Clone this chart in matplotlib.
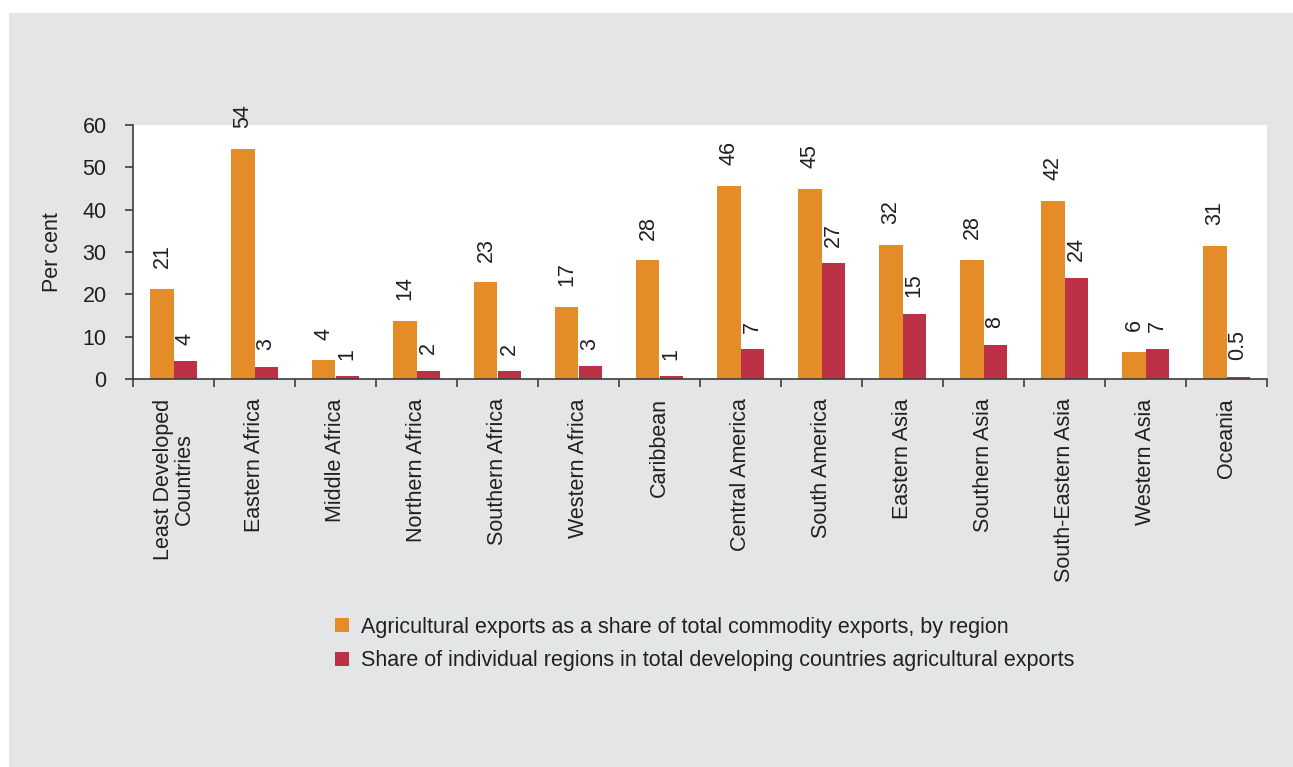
import numpy as np
import matplotlib.pyplot as plt
from matplotlib.patches import Patch, Rectangle

plt.rcParams['font.family'] = ['Liberation Sans', 'DejaVu Sans']

# Data
regions = ["Least Developed\nCountries", "Eastern Africa", "Middle Africa", "Northern Africa",
           "Southern Africa", "Western Africa", "Caribbean", "Central America", "South America",
           "Eastern Asia", "Southern Asia", "South-Eastern Asia", "Western Asia", "Oceania"]
agri_share = [21.2, 54.3, 4.4, 13.8, 22.8, 17.0, 28.0, 45.6, 45.0, 31.6, 28.2, 42.1, 6.3, 31.4]
region_share = [4.2, 2.8, 0.6, 1.9, 1.8, 3.0, 0.6, 7.0, 27.3, 15.4, 8.1, 23.9, 7.2, 0.5]
agri_labels = ["21", "54", "4", "14", "23", "17", "28", "46", "45", "32", "28", "42", "6", "31"]
region_labels = ["4", "3", "1", "2", "2", "3", "1", "7", "27", "15", "8", "24", "7", "0.5"]
legend_names = ["Agricultural exports as a share of total commodity exports, by region",
                "Share of individual regions in total developing countries agricultural exports"]

orange = "#e38c28"
red = "#bd3146"
grey_bg = "#e4e5e7"
txt = "#231f20"
fs = 15.5

W, H = 1293, 767
fig = plt.figure(figsize=(W / 100, H / 100), dpi=100, facecolor="white")
fig.patches.append(Rectangle((9 / W, 0), 1, (H - 13) / H, transform=fig.transFigure,
                             facecolor=grey_bg, edgecolor="none", zorder=-10))

ax = fig.add_axes([133 / W, (H - 379) / H, (1267 - 133) / W, (379 - 125) / H])
ax.set_facecolor("white")

x = np.arange(len(regions)) + 0.5
bw = 0.284
ax.bar(x - bw / 2, agri_share, bw, color=orange, label=legend_names[0])
ax.bar(x + bw / 2, region_share, bw, color=red, label=legend_names[1])

for xi, v, lab in zip(x - bw / 2, agri_share, agri_labels):
    ax.annotate(lab, (xi, v), xytext=(0, 15), textcoords="offset points", rotation=90,
                ha="center", va="bottom", fontsize=fs, color=txt, annotation_clip=False)
for xi, v, lab in zip(x + bw / 2, region_share, region_labels):
    ax.annotate(lab, (xi, v), xytext=(0, 12), textcoords="offset points", rotation=90,
                ha="center", va="bottom", fontsize=fs, color=txt, annotation_clip=False)

ax.set_xlim(0, len(regions))
ax.set_ylim(0, 60)
ax.set_yticks(range(0, 61, 10))
ax.set_xticks(x)
ax.set_xticklabels(regions, rotation=90, fontsize=fs, color=txt, linespacing=1.0)
ax.set_xticks(np.arange(len(regions) + 1), minor=True)
ax.tick_params(axis="x", which="major", length=0, pad=14)
ax.tick_params(axis="x", which="minor", length=6, width=1.2, color="#3c3c3c")
ax.tick_params(axis="y", length=6, width=1.2, color="#3c3c3c", labelsize=fs, labelcolor=txt, pad=13)

for s in ["top", "right"]:
    ax.spines[s].set_visible(False)
for s in ["left", "bottom"]:
    ax.spines[s].set_color("#3c3c3c")
    ax.spines[s].set_linewidth(1.2)

ax.set_ylabel("Per cent", fontsize=fs, color=txt, labelpad=14)

handles = [Patch(facecolor=orange), Patch(facecolor=red)]
fig.legend(handles, legend_names, loc="center left", bbox_to_anchor=(316 / W, 1 - 644 / H),
           frameon=False, fontsize=fs, handlelength=0.65, handleheight=0.65,
           handletextpad=0.55, labelspacing=0.6, labelcolor=txt)

fig.savefig("out.png", dpi=100, facecolor=fig.get_facecolor())
